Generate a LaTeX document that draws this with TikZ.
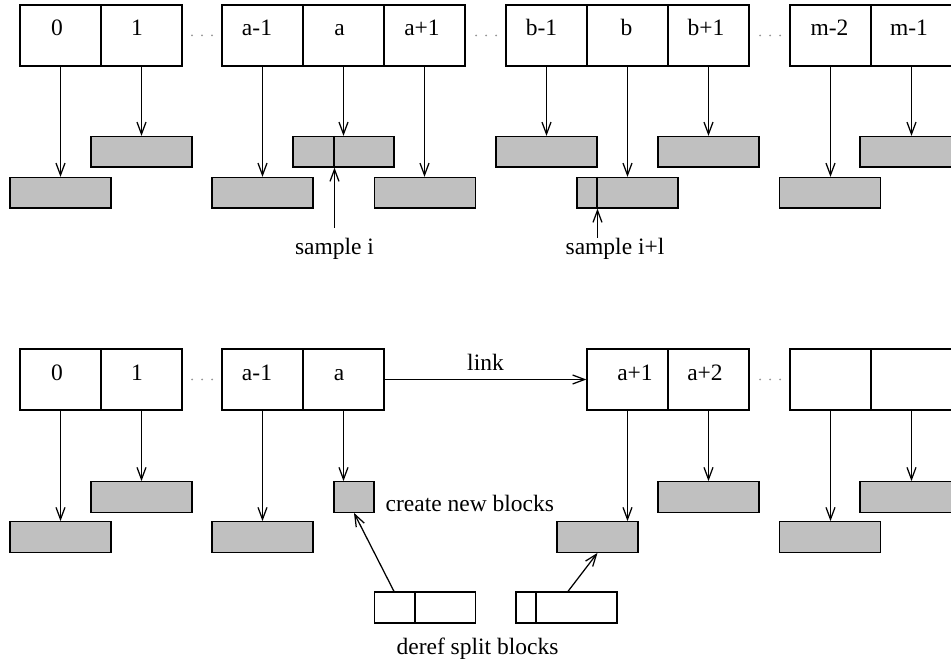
\documentclass[tikz,border=0pt]{standalone}
\usepackage{fontspec}
\setmainfont{Liberation Serif}
\usetikzlibrary{arrows.meta}
\definecolor{blockfill}{RGB}{192,192,192}
\definecolor{dotgray}{RGB}{150,150,150}
\begin{document}
\begin{tikzpicture}[x=1pt,y=-1pt,line width=1.25pt,
  cell/.style={draw, minimum width=81pt, minimum height=61pt, inner sep=0pt},
  blk/.style={draw, fill=blockfill, minimum width=101pt, minimum height=30.5pt, inner sep=0pt},
  splitblk/.style={draw, fill=white, minimum width=101pt, minimum height=31pt, inner sep=0pt},
  txt/.style={font=\fontsize{23.5}{28}\selectfont, inner sep=0pt, anchor=base},
  ptr/.style={-{Straight Barb[length=12pt,width=9pt]}},
]
\clip (0,0) rectangle (951,660);
\fill[white] (0,0) rectangle (951,660);

% ---------------- upper array: blocks referenced by samples ----------------
\foreach \n/\x in {t0/60.5, t1/141.5, ta1/262.5, ta/343.5, tap/424.5,
                   tb1/546.5, tb/627.5, tbp/708.5, tm2/830.5, tm1/911.5}
  \node[cell] (\n) at (\x,35.5) {};

\node[txt] (t0l)  at (57,36)    {0};
\node[txt] (t1l)  at (137,36)   {1};
\node[txt] (ta1l) at (257,36)   {a-1};
\node[txt] (tal)  at (339.5,36) {a};
\node[txt] (tapl) at (422,36)   {a+1};
\node[txt] (tb1l) at (541.5,36) {b-1};
\node[txt] (tbl)  at (626.5,36) {b};
\node[txt] (tbpl) at (706,36)   {b+1};
\node[txt] (tm2l) at (829.5,36) {m-2};
\node[txt] (tm1l) at (909,36)   {m-1};

\foreach \c in {202,486,770}
  \foreach \d in {-10,0,10}
    \fill[dotgray] (\c+\d,35.5) circle (1pt);

% referenced blocks, upper level (y 137..167) and lower level (y 177..208)
\node[blk] (bt0)  at (60.5,192.75)  {};
\node[blk] (bt1)  at (141.5,151.75) {};
\node[blk] (bta1) at (262.5,192.75) {};
\node[blk] (bta)  at (343.5,151.75) {};
\node[blk] (btap) at (425,192.75)   {};
\node[blk] (btb1) at (546.5,151.75) {};
\node[blk] (btb)  at (627.5,192.75) {};
\node[blk] (btbp) at (708.5,151.75) {};
\node[blk] (btm2) at (830,192.75)   {};
\node[blk] (btm1) at (910.5,151.75) {};

% split points inside the sampled blocks
\draw ([xshift=41.5pt]bta.north west) -- ([xshift=41.5pt]bta.south west);
\draw ([xshift=20.5pt]btb.north west) -- ([xshift=20.5pt]btb.south west);

\foreach \c/\b in {t0/bt0, t1/bt1, ta1/bta1, ta/bta, tap/btap,
                   tb1/btb1, tb/btb, tbp/btbp, tm2/btm2, tm1/btm1}
  \draw[ptr] (\c.south) -- (\c.south |- \b.north);

% sample positions
\coordinate (si)  at (334.5,228);
\coordinate (sil) at (597.5,238);
\draw[ptr] (si) -- (si |- bta.south);
\draw[ptr] (sil) -- (sil |- btb.south);
\node[txt] (sitxt)  at (334.5,255) {sample i};
\node[txt] (siltxt) at (615,255)   {sample i+l};

% ---------------- lower array: after splitting at a ----------------
\foreach \n/\x in {u0/60.5, u1/141.5, ua1/262.5, ua/343.5,
                   uap/627.5, uap2/708.5, ux/830.5, uy/911.5}
  \node[cell] (\n) at (\x,379.5) {};

\node[txt] (u0l)   at (57,380.5)  {0};
\node[txt] (u1l)   at (137,380.5) {1};
\node[txt] (ua1l)  at (257,380.5) {a-1};
\node[txt] (ual)   at (339,380.5) {a};
\node[txt] (uapl)  at (635,380.5) {a+1};
\node[txt] (uap2l) at (705,380.5) {a+2};

\foreach \c in {202,770}
  \foreach \d in {-10,0,10}
    \fill[dotgray] (\c+\d,379.5) circle (1pt);

\draw[ptr] (ua.east) -- (uap.west) node[txt, midway, above=8pt] (linktxt) {link};

\node[blk] (bu0)   at (60.5,537)  {};
\node[blk] (bu1)   at (141.5,497) {};
\node[blk] (bua1)  at (262.5,537) {};
\node[blk, minimum width=40pt] (bnew) at (354,497) {};
\node[blk, minimum width=81pt] (buap) at (597.5,537) {};
\node[blk] (buap2) at (708.5,497) {};
\node[blk] (bux)   at (830,537)   {};
\node[blk] (buy)   at (910.5,497) {};

\foreach \c/\b in {u0/bu0, u1/bu1, ua1/bua1, ua/bnew, uap/buap,
                   uap2/buap2, ux/bux, uy/buy}
  \draw[ptr] (\c.south) -- (\c.south |- \b.north);

\node[txt, anchor=base west] (newtxt) at (385,511) {create new blocks};

% dereferenced split blocks
\node[splitblk] (d1) at (425,607.5)   {};
\node[splitblk] (d2) at (566.5,607.5) {};
\draw ([xshift=41pt]d1.north west) -- ([xshift=41pt]d1.south west);
\draw ([xshift=20.5pt]d2.north west) -- ([xshift=20.5pt]d2.south west);

\draw[ptr] ([xshift=-31pt]d1.north) -- (bnew.south);
\draw[ptr] ([xshift=1.5pt]d2.north) -- (buap.south);

\node[txt] (dereftxt) at (477.5,654) {deref split blocks};
\end{tikzpicture}
\end{document}
